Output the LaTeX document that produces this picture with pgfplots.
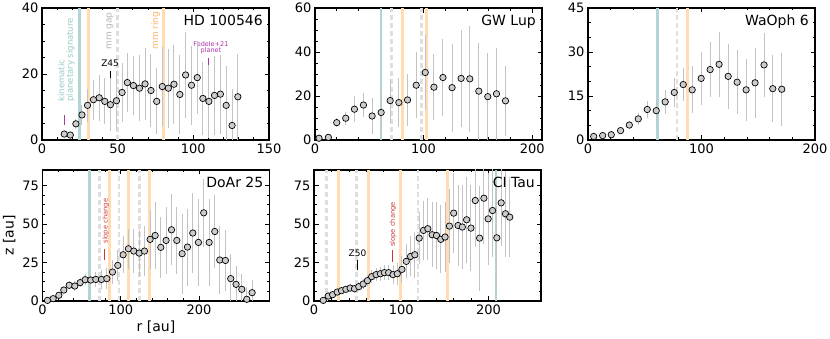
\documentclass[border=0pt]{standalone}
\usepackage{fontspec}
\setmainfont{DejaVu Sans}
\usepackage{pgfplots}
\pgfplotsset{compat=1.18}

\definecolor{ptfill}{RGB}{204,204,204}
\definecolor{ebar}{RGB}{195,195,195}
\definecolor{tealc}{RGB}{178,212,212}
\definecolor{orangec}{RGB}{255,220,178}
\definecolor{grayc}{RGB}{222,222,222}
\definecolor{tealtxt}{RGB}{150,200,200}
\definecolor{gaptxt}{RGB}{180,180,180}
\definecolor{ringtxt}{RGB}{255,180,100}
\definecolor{magc}{RGB}{170,50,170}
\definecolor{redc}{RGB}{205,55,55}

\newcommand{\fs}[1]{\fontsize{#1}{#1}\selectfont}

\pgfplotsset{
  panel/.style={scale only axis, width=227pt, height=132pt, anchor=south west,
    xmin=0, ymin=0, axis line style={line width=1.1pt},
    tick align=inside, xtick pos=both, ytick pos=both,
    major tick length=4.5pt, minor tick length=2.5pt,
    every tick/.style={black, line width=0.8pt},
    tick label style={font=\fs{13}},
    label style={font=\fs{14}},
    /pgf/number format/assume math mode=true},
  vt/.style={draw=tealc, line width=2.7pt, forget plot},
  vo/.style={draw=orangec, line width=3pt, forget plot},
  vg/.style={draw=grayc, line width=2.7pt, dash pattern=on 5pt off 3pt, forget plot},
  pts/.style={only marks, mark=*, mark size=3.2pt,
    mark options={fill=ptfill, draw=black, line width=0.7pt},
    error bars/.cd, y dir=both, y explicit, error mark=none,
    error bar style={line width=1pt, draw=ebar}},
}
\newcommand{\ttl}[1]{\node[anchor=north east, inner sep=0pt, font=\fs{14}] at (rel axis cs:1,1) [xshift=-6pt, yshift=-7pt] {#1};}

\begin{document}
\begin{tikzpicture}
\useasboundingbox (0,0) rectangle (830pt,339pt);

% HD 100546
\begin{axis}[panel, at={(42pt,199pt)}, xmax=150, ymax=40,
  xtick={0,50,100,150}, ytick={0,20,40}, minor x tick num=4, minor y tick num=3]
\addplot[vt] coordinates {(24.6,0) (24.6,40)};
\addplot[vo] coordinates {(30.7,0) (30.7,40)};
\addplot[vg] coordinates {(49.9,0) (49.9,40)};
\addplot[vo] coordinates {(80,0) (80,40)};
\node[rotate=90, anchor=west, align=left, inner sep=0pt, font=\fs{8.5}, text=tealtxt] at (axis cs:16,11.6) {kinematic\\planetary signature};
\node[rotate=90, anchor=west, inner sep=0pt, font=\fs{9}, text=gaptxt] at (axis cs:45,27.3) {mm gap};
\node[rotate=90, anchor=west, inner sep=0pt, font=\fs{9}, text=ringtxt] at (axis cs:75.1,27.3) {mm ring};
\node[font=\fs{9}, inner sep=0pt] at (axis cs:45,23.1) {Z45};
\draw[black, line width=1pt] (axis cs:45,17.7) -- (axis cs:45,20.8);
\draw[magc, line width=1pt] (axis cs:14.9,4.6) -- (axis cs:14.9,7.6);
\node[font=\fs{6.5}, text=magc, align=center, inner sep=0pt] at (axis cs:111.6,28) {Fedele+21\\planet};
\draw[magc, line width=1pt] (axis cs:109.8,21.5) -- (axis cs:109.8,24.8);
\addplot[pts] table[x=r, y=z, y error=e] {
r z e
14.7 1.8 0.5
18.7 1.5 0.5
22.4 4.9 1.5
26.4 7.6 3
30.1 10.5 5
34.0 12.2 6
37.8 12.8 7
41.5 11.7 7
45.2 10.7 8
49.2 11.9 9
52.9 14.4 9
56.4 17.4 9
60.4 16.5 9
64.4 15.7 10
68.1 17.0 11
72.0 15.0 11
75.8 11.7 10
79.5 16.2 12
83.5 15.7 12
87.2 16.9 12
91.1 13.8 12
94.9 19.7 13
98.8 16.6 12
102.6 18.9 11
106.3 12.6 11
110.3 11.7 11
114.0 13.5 12
117.9 13.9 12
121.7 10.5 12
125.6 4.4 11
129.4 13.1 13
};
\ttl{HD 100546}
\end{axis}

% GW Lup
\begin{axis}[panel, at={(315pt,199pt)}, xmax=209, ymax=60,
  xtick={0,100,200}, ytick={0,20,40,60}, minor x tick num=4, minor y tick num=3]
\addplot[vt] coordinates {(60.9,0) (60.9,60)};
\addplot[vg] coordinates {(70.2,0) (70.2,60)};
\addplot[vo] coordinates {(80.6,0) (80.6,60)};
\addplot[vg] coordinates {(97.8,0) (97.8,60)};
\addplot[vo] coordinates {(102.5,0) (102.5,60)};
\addplot[pts] table[x=r, y=z, y error=e] {
r z e
3.7 0.8 0.5
12.3 1.2 1
20.0 7.9 2
28.3 9.9 3
36.3 14.0 6
44.6 15.9 5.5
52.6 10.9 8
60.9 12.5 10
69.2 17.9 10
77.2 17.0 11
85.2 18.2 12
93.2 24.9 15
101.5 30.7 17
109.5 24.0 15
117.8 28.4 17.5
126.2 23.8 20
134.5 28.0 22
142.5 27.8 24
150.8 22.2 22
159.1 19.7 20
167.1 21.0 21
175.4 17.8 16
};
\ttl{GW Lup}
\end{axis}

% WaOph 6
\begin{axis}[panel, at={(588pt,199pt)}, xmax=200, ymax=45,
  xtick={0,100,200}, ytick={0,15,30,45}, minor x tick num=4, minor y tick num=2]
\addplot[vt] coordinates {(61.3,0) (61.3,45)};
\addplot[vg] coordinates {(78.3,0) (78.3,45)};
\addplot[vo] coordinates {(87.4,0) (87.4,45)};
\addplot[pts] table[x=r, y=z, y error=e] {
r z e
5.0 1.2 0.5
12.9 1.5 0.7
20.5 1.8 0.8
28.7 3.2 1
36.4 5.1 1.5
44.3 7.2 2
52.2 10.4 3
60.1 10.0 3.5
68.0 13.0 4
76.0 16.2 5
83.9 18.9 5.5
91.8 17.1 8
99.7 21.0 9
107.6 24.0 9.5
115.5 25.8 11
123.5 21.7 11
131.4 19.7 11
139.3 17.1 10.5
147.2 19.5 12
155.1 25.6 11
162.8 17.5 11.5
170.7 17.3 12.5
};
\ttl{WaOph 6}
\end{axis}

% DoAr 25
\begin{axis}[panel, at={(42.5pt,38pt)}, height=131pt, xmax=290, ymax=85,
  xtick={0,100,200}, ytick={0,25,50,75}, minor x tick num=4, minor y tick num=3,
  xlabel={r [au]}, ylabel={z [au]}]
\addplot[vt] coordinates {(59.6,0) (59.6,85)};
\addplot[vg] coordinates {(72.4,0) (72.4,85)};
\addplot[vo] coordinates {(85.5,0) (85.5,85)};
\addplot[vg] coordinates {(97.6,0) (97.6,85)};
\addplot[vo] coordinates {(110.2,0) (110.2,85)};
\addplot[vg] coordinates {(124.3,0) (124.3,85)};
\addplot[vo] coordinates {(136.1,0) (136.1,85)};
\node[rotate=90, anchor=west, inner sep=0pt, font=\fs{6.7}, text=redc] at (axis cs:80.8,37.2) {slope change};
\draw[redc, line width=1pt] (axis cs:78.7,26.4) -- (axis cs:78.7,34);
\addplot[pts] table[x=r, y=z, y error=e] {
r z e
6.4 0.4 0.5
13.6 1.5 0.8
20.9 3.7 1
27.2 7.1 2
34.1 10.2 2.5
41.3 9.7 3
48.1 11.9 3
54.5 13.8 3.5
61.7 13.6 4
68.1 14.0 5
75.4 14.0 6
82.2 14.5 7
89.4 18.8 8
96.2 23.1 10
103.0 30.0 12
109.8 33.9 13
116.6 32.4 14
123.5 31.1 15
130.3 32.4 16
137.5 40.0 19
143.9 42.5 22
151.1 34.8 20
157.9 39.3 22
164.8 46.2 23
171.6 39.3 22
178.4 30.7 26
185.2 35.0 25
192.0 44.1 26
199.2 38.0 28
206.0 57.2 22
212.9 38.0 28
220.1 45.1 24
226.5 26.6 22
233.7 26.3 20
240.5 14.5 16
247.3 10.8 12
254.6 7.6 10
261.0 1.1 8
267.8 5.4 8
};
\ttl{DoAr 25}
\end{axis}

% CI Tau
\begin{axis}[panel, at={(314pt,38pt)}, height=131pt, xmax=260, ymax=85,
  xtick={0,100,200}, ytick={0,25,50,75}, minor x tick num=4, minor y tick num=3]
\addplot[vg] coordinates {(14.4,0) (14.4,85)};
\addplot[vo] coordinates {(27.9,0) (27.9,85)};
\addplot[vg] coordinates {(48.7,0) (48.7,85)};
\addplot[vo] coordinates {(62.5,0) (62.5,85)};
\addplot[vo] coordinates {(99.2,0) (99.2,85)};
\addplot[vg] coordinates {(119.2,0) (119.2,85)};
\addplot[vo] coordinates {(153.2,0) (153.2,85)};
\addplot[vt] coordinates {(208.3,0) (208.3,85)};
\node[rotate=90, anchor=west, inner sep=0pt, font=\fs{6.7}, text=redc] at (axis cs:90.5,35) {slope change};
\draw[redc, line width=1pt] (axis cs:89.7,25.3) -- (axis cs:89.7,32.8);
\node[font=\fs{9}, inner sep=0pt] at (axis cs:49.8,31.3) {Z50};
\draw[black, line width=1pt] (axis cs:49.8,19.9) -- (axis cs:49.8,26.3);
\addplot[pts] table[x=r, y=z, y error=e] {
r z e
10.6 0.4 0.5
16.3 3.2 1
21.3 4.1 1
26.6 5.8 1.5
31.5 6.7 2
36.5 7.6 2
41.4 8.4 2.5
46.4 8.0 2.5
51.3 9.3 3
56.3 11.0 3
61.2 13.2 3.5
66.1 15.8 4
71.1 17.1 4
76.0 17.7 4.5
80.6 18.4 5
85.5 18.4 5
90.5 17.1 6
95.4 17.7 7
100.7 20.5 9
105.7 25.7 11
110.6 28.9 13
115.5 30.0 15
120.5 40.8 17
125.4 45.8 19
130.4 46.9 20
135.3 43.0 21
140.3 42.5 22
145.2 40.0 22
150.1 41.5 23
155.1 48.6 24
160.0 57.0 26
165.0 49.0 26
169.9 48.0 27
174.8 52.7 28
179.8 47.3 28
184.7 65.2 30
189.7 40.8 34
194.6 66.7 30
199.5 53.3 30
204.5 58.7 30
209.4 41.0 32
214.4 63.7 28
219.3 56.6 28
224.2 54.4 26
};
\ttl{CI Tau}
\end{axis}
\end{tikzpicture}
\end{document}
